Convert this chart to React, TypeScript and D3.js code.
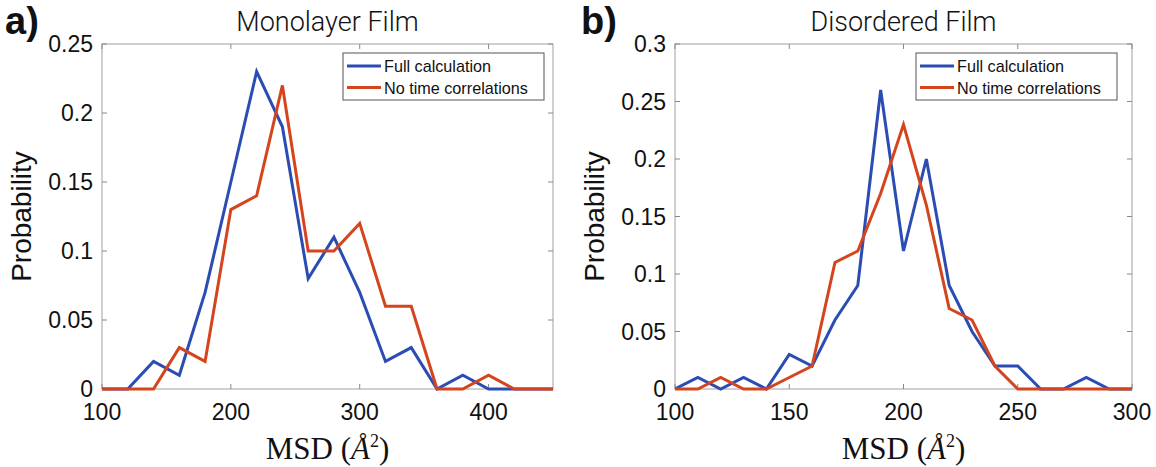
import React from "react";
import * as d3 from "d3";

// ---- Data ----
const msdA = [100, 120, 140, 160, 180, 200, 220, 240, 260, 280, 300, 320, 340, 360, 380, 400, 420, 440, 460];
const fullA = [0, 0, 0.02, 0.01, 0.07, 0.15, 0.23, 0.19, 0.08, 0.11, 0.07, 0.02, 0.03, 0, 0.01, 0, 0, 0, 0];
const noCorrA = [0, 0, 0, 0.03, 0.02, 0.13, 0.14, 0.22, 0.1, 0.1, 0.12, 0.06, 0.06, 0, 0, 0.01, 0, 0, 0];

const msdB = [100, 110, 120, 130, 140, 150, 160, 170, 180, 190, 200, 210, 220, 230, 240, 250, 260, 270, 280, 290, 300];
const fullB = [0, 0.01, 0, 0.01, 0, 0.03, 0.02, 0.06, 0.09, 0.26, 0.12, 0.2, 0.09, 0.05, 0.02, 0.02, 0, 0, 0.01, 0, 0];
const noCorrB = [0, 0, 0.01, 0, 0, 0.01, 0.02, 0.11, 0.12, 0.17, 0.23, 0.16, 0.07, 0.06, 0.02, 0, 0, 0, 0, 0, 0];

const xTicksA = [100, 200, 300, 400];
const yTicksA = [0, 0.05, 0.1, 0.15, 0.2, 0.25];
const xTicksB = [100, 150, 200, 250, 300];
const yTicksB = [0, 0.05, 0.1, 0.15, 0.2, 0.25, 0.3];

const seriesNames = ["Full calculation", "No time correlations"];
const BLUE = "#2b4db3";
const RED = "#d4451d";

type PanelProps = {
  id: string;
  letter: string;
  title: string;
  left: number;
  right: number;
  xDomain: [number, number];
  yDomain: [number, number];
  xTicks: number[];
  yTicks: number[];
  xs: number[];
  full: number[];
  noCorr: number[];
  legendX: number;
  letterX: number;
};

const TOP = 44;
const BOTTOM = 389;
const tickFont = "'Liberation Sans', Arial, Helvetica, sans-serif";

function Panel(p: PanelProps) {
  const x = d3.scaleLinear().domain(p.xDomain).range([p.left, p.right]);
  const y = d3.scaleLinear().domain(p.yDomain).range([BOTTOM, TOP]);
  const line = d3
    .line<number>()
    .x((_, i) => x(p.xs[i]))
    .y((d) => y(d));
  const cx = (p.left + p.right) / 2;
  const clipId = `clip-${p.id}`;
  const tl = 5;
  const fmt = (v: number) => (v === 0 ? "0" : String(+v.toFixed(2)));
  const lw = 201;
  return (
    <g>
      <defs>
        <clipPath id={clipId}>
          <rect x={p.left} y={TOP - 2} width={p.right - p.left} height={BOTTOM - TOP + 4} />
        </clipPath>
      </defs>
      <text x={p.letterX} y={34} fontFamily={tickFont} fontWeight="bold" fontSize={38} fill="#111">
        {p.letter}
      </text>
      <text
        x={cx}
        y={31}
        textAnchor="middle"
        fontFamily="Roboto, 'Liberation Sans', sans-serif"
        fontWeight={300}
        fontSize={27}
        fill="#111"
      >
        {p.title}
      </text>
      <rect x={p.left} y={TOP} width={p.right - p.left} height={BOTTOM - TOP} fill="white" stroke="#a0a0a0" strokeWidth={1} />
      {p.xTicks.map((t) => (
        <g key={"x" + t}>
          <line x1={x(t)} x2={x(t)} y1={BOTTOM} y2={BOTTOM - tl} stroke="#888" />
          <line x1={x(t)} x2={x(t)} y1={TOP} y2={TOP + tl} stroke="#888" />
          <text x={x(t)} y={420} textAnchor="middle" fontFamily={tickFont} fontSize={23} fill="#111">
            {t}
          </text>
        </g>
      ))}
      {p.yTicks.map((t) => (
        <g key={"y" + t}>
          <line x1={p.left} x2={p.left + tl} y1={y(t)} y2={y(t)} stroke="#888" />
          <line x1={p.right} x2={p.right - tl} y1={y(t)} y2={y(t)} stroke="#888" />
          <text x={p.left - 9} y={y(t) + 8} textAnchor="end" fontFamily={tickFont} fontSize={23} fill="#111">
            {fmt(t)}
          </text>
        </g>
      ))}
      <text
        transform={`translate(${p.left - 71},${(TOP + BOTTOM) / 2}) rotate(-90)`}
        textAnchor="middle"
        fontFamily={tickFont}
        fontSize={28}
        fill="#111"
      >
        Probability
      </text>
      <text x={cx} y={459} textAnchor="middle" fontFamily="'Liberation Serif', 'DejaVu Serif', serif" fontSize={31} fill="#111">
        MSD (<tspan fontStyle="italic">Å</tspan>
        <tspan fontSize={18} dy={-12}>2</tspan>
        <tspan dy={12}>)</tspan>
      </text>
      <g clipPath={`url(#${clipId})`}>
        <path d={line(p.full) || ""} fill="none" stroke={BLUE} strokeWidth={3} strokeLinejoin="miter" />
        <path d={line(p.noCorr) || ""} fill="none" stroke={RED} strokeWidth={3} strokeLinejoin="miter" />
      </g>
      <g>
        <rect x={p.legendX} y={53} width={lw} height={47} fill="white" stroke="#555" strokeWidth={1} />
        {seriesNames.map((n, i) => (
          <g key={n}>
            <line
              x1={p.legendX + 4}
              x2={p.legendX + 38}
              y1={66 + i * 21.5}
              y2={66 + i * 21.5}
              stroke={i === 0 ? BLUE : RED}
              strokeWidth={3}
            />
            <text x={p.legendX + 41} y={66 + i * 21.5 + 6} fontFamily={tickFont} fontSize={16.2} fill="#111">
              {n}
            </text>
          </g>
        ))}
      </g>
    </g>
  );
}

export default function App() {
  return (
    <svg
      width={1156}
      height={467}
      style={{ position: "absolute", left: 0, top: 0, background: "white" }}
    >
      <Panel
        id="a"
        letter="a)"
        title="Monolayer Film"
        left={102}
        right={553}
        xDomain={[100, 450]}
        yDomain={[0, 0.25]}
        xTicks={xTicksA}
        yTicks={yTicksA}
        xs={msdA}
        full={fullA}
        noCorr={noCorrA}
        legendX={343}
        letterX={5}
      />
      <Panel
        id="b"
        letter="b)"
        title="Disordered Film"
        left={675}
        right={1132}
        xDomain={[100, 300]}
        yDomain={[0, 0.3]}
        xTicks={xTicksB}
        yTicks={yTicksB}
        xs={msdB}
        full={fullB}
        noCorr={noCorrB}
        legendX={916}
        letterX={581}
      />
    </svg>
  );
}
